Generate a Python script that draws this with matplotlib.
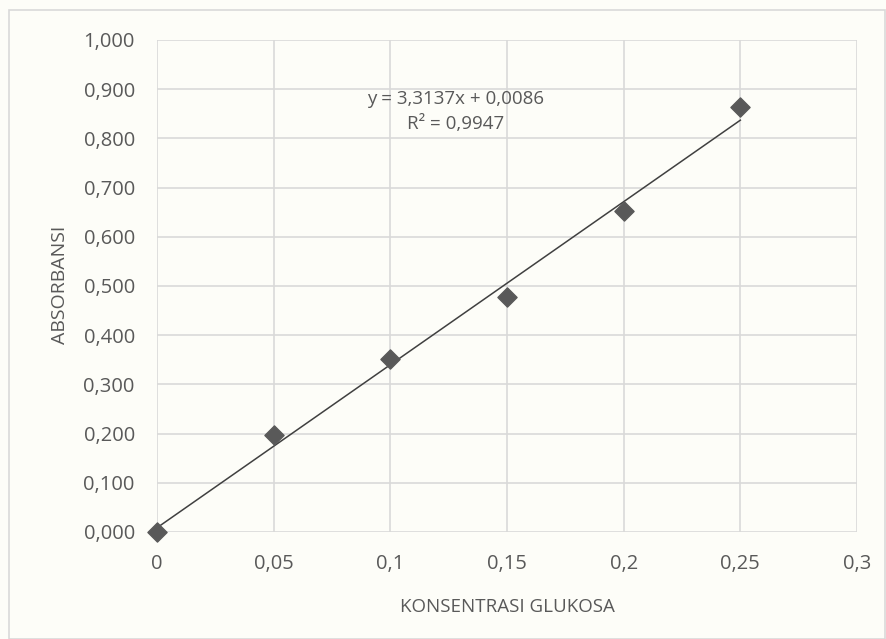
import matplotlib.pyplot as plt
import numpy as np
from matplotlib.ticker import FuncFormatter
from matplotlib.patches import Rectangle

# data
konsentrasi = [0, 0.05, 0.1, 0.15, 0.2, 0.25]
absorbansi = [0.000, 0.198, 0.352, 0.477, 0.653, 0.864]
slope = 3.3137
intercept = 0.0086
r2 = 0.9947

plt.rcParams['font.family'] = ['Open Sans', 'DejaVu Sans']
txt = '#595959'
bg = '#fdfdf8'

fig = plt.figure(figsize=(8.87, 6.39), dpi=100, facecolor=bg)
ax = fig.add_axes([157 / 887, 1 - 532 / 639, 700 / 887, 492 / 639])
ax.set_facecolor(bg)

# outer chart border
fig.patches.append(Rectangle((9 / 887, 0), 1 - 9 / 887 - 0.002, 1 - 10 / 639,
                             transform=fig.transFigure, fill=False,
                             edgecolor='#d9d9d9', linewidth=1.2))

ax.set_xlim(0, 0.3)
ax.set_ylim(0, 1.0)
ax.set_xticks(np.arange(0, 0.31, 0.05))
ax.set_yticks(np.arange(0, 1.01, 0.1))
ax.grid(True, color='#d9d9d9', linewidth=1.2)
ax.set_axisbelow(True)
for s in ax.spines.values():
    s.set_visible(False)
ax.tick_params(length=0, labelsize=14.5, labelcolor=txt)
ax.tick_params(axis='y', pad=16)
ax.tick_params(axis='x', pad=16)
ax.xaxis.set_major_formatter(FuncFormatter(lambda v, p: ('%g' % round(v, 2)).replace('.', ',')))
ax.yaxis.set_major_formatter(FuncFormatter(lambda v, p: ('%.3f' % v).replace('.', ',')))

# trendline
xt = np.array([konsentrasi[0], konsentrasi[-1]])
ax.plot(xt, slope * xt + intercept, color='#404040', linewidth=1.1, zorder=2)
ax.scatter(konsentrasi, absorbansi, marker='D', s=95, color='#595959', zorder=3, clip_on=False)

ax.text(0.128, 0.880, 'y = 3,3137x + 0,0086', ha='center', va='center', fontsize=13.5, color=txt)
ax.text(0.128, 0.829, 'R² = 0,9947', ha='center', va='center', fontsize=13.5, color=txt)

fig.text(507 / 887, 1 - 607 / 639, 'KONSENTRASI GLUKOSA', ha='center', va='center', fontsize=13.5, color=txt)
fig.text(60 / 887, 1 - 285 / 639, 'ABSORBANSI', ha='center', va='center', rotation=90, fontsize=14, color=txt)

fig.savefig('out.png', dpi=100, facecolor=bg)
